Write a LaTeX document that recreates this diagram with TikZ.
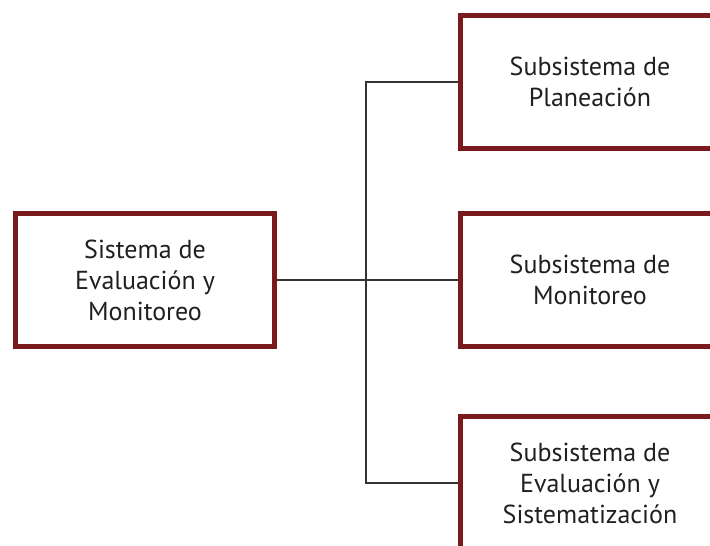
\documentclass[tikz,border=0pt]{standalone}
\usepackage{fontspec}
\setmainfont{PT Sans}
\usepackage{tikz}
\usetikzlibrary{positioning,calc}
\definecolor{wineRed}{RGB}{122,26,28}
\definecolor{textGray}{RGB}{35,31,32}
\colorlet{lineGray}{black!80}
\tikzset{sysbox/.style={draw=wineRed, line width=5pt, fill=white, minimum width=259pt, minimum height=133pt, text=textGray}}

\begin{document}
\begin{tikzpicture}[x=1pt, y=-1pt, every node/.style={font=\fontsize{26}{31}\selectfont, align=center}]
        \useasboundingbox (0,0) rectangle (710,546);
        \clip (0,0) rectangle (710,546);
        \node[sysbox] (sis) at (145,280) {Sistema de\\Evaluación y\\Monitoreo};
        \node[sysbox] (plan) at (590,82) {Subsistema de\\Planeación};
        \node[sysbox] (mon) at (590,280) {Subsistema de\\Monitoreo};
        \node[sysbox] (eval) at (590,483) {Subsistema de\\Evaluación y\\Sistematización};
        \coordinate (bus) at (366,280);
        \draw[lineGray, line width=1.2pt] (sis) -- (mon);
        \draw[lineGray, line width=1.2pt] (plan.west) -| (bus) |- (eval.west);
    \end{tikzpicture}
\end{document}
